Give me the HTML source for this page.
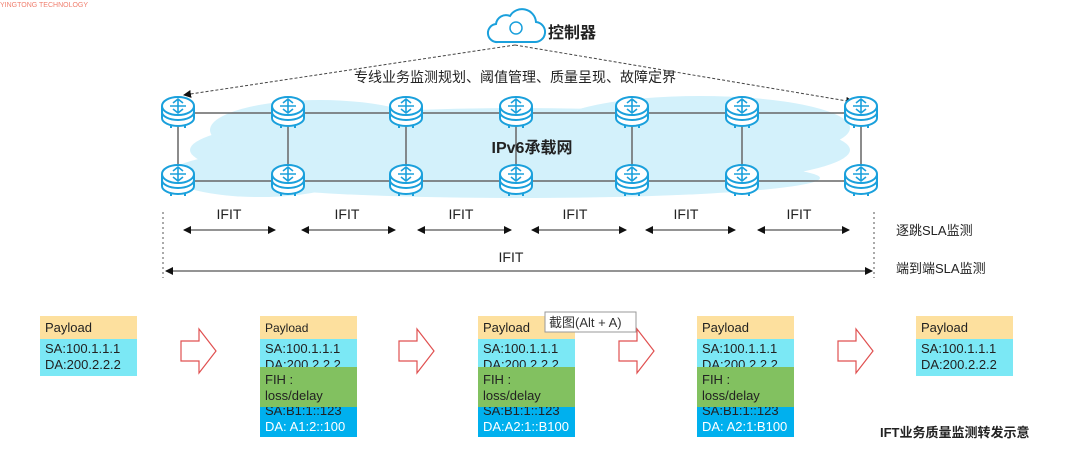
<!DOCTYPE html>
<html><head><meta charset="utf-8"><style>
html,body{margin:0;padding:0;background:#fff;}
svg{display:block;font-family:"Liberation Sans","Noto Sans CJK SC",sans-serif;}
</style></head><body>
<svg width="1080" height="454" viewBox="0 0 1080 454" xmlns="http://www.w3.org/2000/svg">
<defs>
<marker id="ah" markerWidth="8" markerHeight="8" refX="7" refY="4" orient="auto-start-reverse" markerUnits="userSpaceOnUse"><path d="M0,0 L8,4 L0,8 z" fill="#111"/></marker>
<g id="rt">
<path d="M-16,-6 L-16,6 A16,8 0 0 0 16,6 L16,-6" fill="#fff" stroke="#1aa0dc" stroke-width="2"/>
<path d="M-16,0 A16,8 0 0 0 16,0" fill="none" stroke="#1aa0dc" stroke-width="2"/>
<ellipse cx="0" cy="-6" rx="16" ry="9" fill="#fff" stroke="#1aa0dc" stroke-width="2"/>
<path d="M-8,-6 h16 M0,-12 v12 M-5,-9 l5,-4 l5,4 M-5,-3 l5,4 l5,-4" stroke="#1aa0dc" stroke-width="1.6" fill="none"/>
<path d="M-6,15 l-2,0 M6,15 l2,0" stroke="#1aa0dc" stroke-width="2"/>
</g>
</defs>
<text x="0" y="7" font-size="7" fill="#f08070">YINGTONG TECHNOLOGY</text>
<!-- cloud background -->
<g fill="#d3f1fb">
<ellipse cx="520" cy="150" rx="330" ry="42"/>
<ellipse cx="320" cy="130" rx="110" ry="30"/>
<ellipse cx="700" cy="128" rx="150" ry="32"/>
<ellipse cx="260" cy="175" rx="90" ry="22"/>
<ellipse cx="520" cy="178" rx="300" ry="20"/>
</g>
<!-- controller -->
<path d="M498,42 h36 a10,10 0 0 0 2,-20 a14,14 0 0 0 -26,-6 a10,10 0 0 0 -14,8 a9,9 0 0 0 2,18z" fill="#fff" stroke="#1aa0dc" stroke-width="2"/>
<circle cx="516" cy="28" r="6" fill="none" stroke="#1aa0dc" stroke-width="1.5"/>
<text x="548" y="38" font-size="16" font-weight="bold" fill="#222">控制器</text>
<path d="M515,45 L184,95" stroke="#444" stroke-width="1" stroke-dasharray="3,2" marker-end="url(#ah)"/>
<path d="M515,45 L853,102" stroke="#444" stroke-width="1" stroke-dasharray="3,2" marker-end="url(#ah)"/>
<text x="515" y="82" font-size="14" fill="#222" text-anchor="middle">专线业务监测规划、阈值管理、质量呈现、故障定界</text>
<!-- links -->
<g stroke="#666" stroke-width="1.5">
<line x1="178" y1="113" x2="861" y2="113"/>
<line x1="178" y1="181" x2="861" y2="181"/>
<line x1="178" y1="113" x2="178" y2="181"/>
<line x1="288" y1="113" x2="288" y2="181"/>
<line x1="406" y1="113" x2="406" y2="181"/>
<line x1="516" y1="113" x2="516" y2="181"/>
<line x1="632" y1="113" x2="632" y2="181"/>
<line x1="742" y1="113" x2="742" y2="181"/>
<line x1="861" y1="113" x2="861" y2="181"/>
</g>
<g>
<use href="#rt" x="178" y="112"/><use href="#rt" x="288" y="112"/><use href="#rt" x="406" y="112"/><use href="#rt" x="516" y="112"/><use href="#rt" x="632" y="112"/><use href="#rt" x="742" y="112"/><use href="#rt" x="861" y="112"/>
<use href="#rt" x="178" y="180"/><use href="#rt" x="288" y="180"/><use href="#rt" x="406" y="180"/><use href="#rt" x="516" y="180"/><use href="#rt" x="632" y="180"/><use href="#rt" x="742" y="180"/><use href="#rt" x="861" y="180"/>
</g>
<text x="532" y="153" font-size="16" font-weight="bold" fill="#222" text-anchor="middle">IPv6承载网</text>
<!-- IFIT -->
<g stroke="#555" stroke-width="1" stroke-dasharray="2,3">
<line x1="163" y1="212" x2="163" y2="278"/>
<line x1="874" y1="212" x2="874" y2="278"/>
</g>
<g stroke="#555" stroke-width="1.2" fill="none">
<line x1="184" y1="230" x2="275" y2="230" marker-start="url(#ah)" marker-end="url(#ah)"/>
<line x1="302" y1="230" x2="395" y2="230" marker-start="url(#ah)" marker-end="url(#ah)"/>
<line x1="418" y1="230" x2="511" y2="230" marker-start="url(#ah)" marker-end="url(#ah)"/>
<line x1="532" y1="230" x2="626" y2="230" marker-start="url(#ah)" marker-end="url(#ah)"/>
<line x1="646" y1="230" x2="735" y2="230" marker-start="url(#ah)" marker-end="url(#ah)"/>
<line x1="758" y1="230" x2="849" y2="230" marker-start="url(#ah)" marker-end="url(#ah)"/>
<line x1="166" y1="271" x2="872" y2="271" marker-start="url(#ah)" marker-end="url(#ah)"/>
</g>
<g font-size="14" fill="#222" text-anchor="middle">
<text x="229" y="219">IFIT</text><text x="347" y="219">IFIT</text><text x="461" y="219">IFIT</text><text x="575" y="219">IFIT</text><text x="686" y="219">IFIT</text><text x="799" y="219">IFIT</text>
<text x="511" y="262">IFIT</text>
</g>
<text x="896" y="235" font-size="13" fill="#222">逐跳SLA监测</text>
<text x="896" y="273" font-size="13" fill="#222">端到端SLA监测</text>
<!-- packets -->
<g font-size="13" fill="#222">
<rect x="40" y="316" width="97" height="23" fill="#fde09e"/><rect x="40" y="339" width="97" height="37" fill="#7be8f5"/>
<text x="45" y="332">Payload</text><text x="45" y="353">SA:100.1.1.1</text><text x="45" y="369">DA:200.2.2.2</text>

<rect x="260" y="316" width="97" height="23" fill="#fde09e"/><rect x="260" y="339" width="97" height="28" fill="#7be8f5"/><rect x="260" y="407" width="97" height="30" fill="#00b0ee"/>
<text x="265" y="332" font-size="12">Payload</text><text x="265" y="353">SA:100.1.1.1</text><text x="265" y="369">DA:200.2.2.2</text>
<text x="265" y="415">SA:B1:1::123</text><text x="265" y="431" fill="#fff">DA: A1:2::100</text>
<rect x="260" y="367" width="97" height="40" fill="#82c160"/><text x="265" y="384">FIH :</text><text x="265" y="400">loss/delay</text>

<rect x="478" y="316" width="97" height="23" fill="#fde09e"/><rect x="478" y="339" width="97" height="28" fill="#7be8f5"/><rect x="478" y="407" width="97" height="30" fill="#00b0ee"/>
<text x="483" y="332">Payload</text><text x="483" y="353">SA:100.1.1.1</text><text x="483" y="369">DA:200.2.2.2</text>
<text x="483" y="415">SA:B1:1::123</text><text x="483" y="431" fill="#fff">DA:A2:1::B100</text>
<rect x="478" y="367" width="97" height="40" fill="#82c160"/><text x="483" y="384">FIH :</text><text x="483" y="400">loss/delay</text>

<rect x="697" y="316" width="97" height="23" fill="#fde09e"/><rect x="697" y="339" width="97" height="28" fill="#7be8f5"/><rect x="697" y="407" width="97" height="30" fill="#00b0ee"/>
<text x="702" y="332">Payload</text><text x="702" y="353">SA:100.1.1.1</text><text x="702" y="369">DA:200.2.2.2</text>
<text x="702" y="415">SA:B1:1::123</text><text x="702" y="431" fill="#fff">DA: A2:1:B100</text>
<rect x="697" y="367" width="97" height="40" fill="#82c160"/><text x="702" y="384">FIH :</text><text x="702" y="400">loss/delay</text>

<rect x="916" y="316" width="97" height="23" fill="#fde09e"/><rect x="916" y="339" width="97" height="37" fill="#7be8f5"/>
<text x="921" y="332">Payload</text><text x="921" y="353">SA:100.1.1.1</text><text x="921" y="369">DA:200.2.2.2</text>
</g>
<!-- tooltip -->
<rect x="545" y="312" width="91" height="20" fill="#fff" stroke="#999"/>
<text x="549" y="327" font-size="13" fill="#333">截图(Alt + A)</text>
<!-- hollow arrows -->
<g fill="#fff" stroke="#e05050" stroke-width="1.2">
<path d="M181,341 h18 v-12 l17,22 l-17,22 v-12 h-18z"/>
<path d="M399,341 h18 v-12 l17,22 l-17,22 v-12 h-18z"/>
<path d="M619,341 h18 v-12 l17,22 l-17,22 v-12 h-18z"/>
<path d="M838,341 h18 v-12 l17,22 l-17,22 v-12 h-18z"/>
</g>
<text x="880" y="437" font-size="13" font-weight="bold" fill="#222">IFT业务质量监测转发示意</text>
</svg>
</body></html>
